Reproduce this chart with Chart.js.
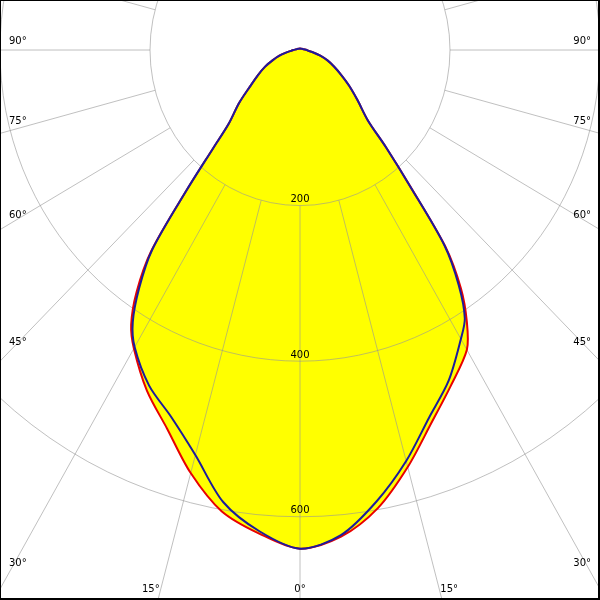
<!DOCTYPE html>
<html>
<head>
<meta charset="utf-8">
<style>
  html, body { margin: 0; padding: 0; background: #fff; }
  #wrap { width: 600px; height: 600px; }
</style>
<script src="https://cdn.jsdelivr.net/npm/chart.js@4.4.0/dist/chart.umd.min.js"></script>
</head>
<body>
<div id="wrap"><canvas id="polar" width="600" height="600"></canvas></div>
<script>
// gamma angles (deg from nadir) and intensities
const angles    = [0,5,10,15,20,25,30,32.5,35,37.5,40,42.5,45,50,55,60,65,70,75,80,85,90,100,120,140,160,180];
const redRight  = [641,628,598,555,511,476,445,414,374,318,228,170,128,100,80,63,50,39,28,18,11,9,5,3,2,2,2];
const redLeft   = [641,624,602,563,518,483,443,419,380,326,235,172,135,106,81,65,52,39,29,19,12,9,5,3,2,2,2];
const blueRight = [641,626,589,547,503,469,429,409,369,316,228,170,128,100,80,63,50,39,28,18,11,9,5,3,2,2,2];
const blueLeft  = [641,621,590,539,502,476,441,415,374,324,235,172,135,106,81,65,52,39,29,19,12,9,5,3,2,2,2];

const ringValues  = [200, 400, 600];
const spokeAngles = [-165,-150,-135,-120,-105,-90,-75,-60,-45,-30,-15,0,15,30,45,60,75,90,105,120,135,150,165,180];
const sideLabels   = [90, 75, 60, 45, 30];
const bottomLabels = [15, 0];

// polar -> cartesian (0 deg points down)
function toPoints(left, right){
  const pts = [];
  for (let i = angles.length - 1; i >= 0; i--) {
    const t = -angles[i] * Math.PI / 180;
    pts.push({ x: left[i] * Math.sin(t), y: -left[i] * Math.cos(t) });
  }
  for (let i = 1; i < angles.length; i++) {
    const t = angles[i] * Math.PI / 180;
    pts.push({ x: right[i] * Math.sin(t), y: -right[i] * Math.cos(t) });
  }
  return pts;
}
const redPts = toPoints(redLeft, redRight);
const bluePts = toPoints(blueLeft, blueRight);

const FONT = '10px "DejaVu Sans", sans-serif';
const TENSION = 0.3;

const polarGrid = {
  id: 'polarGrid',
  beforeDatasetDraw(chart, args){
    if (args.index !== 2) return;
    const {ctx, scales:{x, y}} = chart;
    const cx = x.getPixelForValue(0), cy = y.getPixelForValue(0);
    const kx = (x.getPixelForValue(100) - cx) / 100;
    const ky = (cy - y.getPixelForValue(100)) / 100;
    ctx.save();
    ctx.strokeStyle = 'rgba(150,150,150,0.6)';
    ctx.lineWidth = 1;
    ringValues.forEach(v => {
      ctx.beginPath();
      ctx.ellipse(cx, cy, v * kx, v * ky, 0, 0, Math.PI * 2);
      ctx.stroke();
    });
    spokeAngles.forEach(a => {
      const t = a * Math.PI / 180, s = Math.sin(t), c = Math.cos(t);
      ctx.beginPath();
      ctx.moveTo(cx + ringValues[0] * s * kx, cy + ringValues[0] * c * ky);
      ctx.lineTo(cx + 1500 * s * kx, cy + 1500 * c * ky);
      ctx.stroke();
    });
    ctx.restore();
  },
  afterDraw(chart){
    const {ctx, scales:{x, y}} = chart;
    const cx = x.getPixelForValue(0), cy = y.getPixelForValue(0);
    const kx = (x.getPixelForValue(100) - cx) / 100;
    const ky = (cy - y.getPixelForValue(100)) / 100;
    ctx.save();
    ctx.fillStyle = '#000';
    ctx.font = FONT;
    ctx.textBaseline = 'bottom';
    ctx.textAlign = 'center';
    ringValues.forEach(v => ctx.fillText(String(v), cx, cy + v * ky - 1));

    // angle labels along the side edges
    sideLabels.forEach(a => {
      const t = a * Math.PI / 180;
      const dx = cx - 9;
      const yy = cy + dx / (Math.sin(t) * kx) * Math.cos(t) * ky - 4;
      ctx.textAlign = 'left';
      ctx.fillText(a + '°', 9, yy);
      ctx.textAlign = 'right';
      ctx.fillText(a + '°', 591, yy);
    });
    // angle labels along the bottom edge
    bottomLabels.forEach(a => {
      const t = a * Math.PI / 180;
      const off = (593 - cy) / ky * Math.tan(t) * kx;
      if (a === 0) {
        ctx.textAlign = 'center';
        ctx.fillText('0°', cx, 594);
      } else {
        ctx.textAlign = 'right';
        ctx.fillText(a + '°', cx - off, 594);
        ctx.textAlign = 'left';
        ctx.fillText(a + '°', cx + off, 594);
      }
    });

    // frame
    ctx.fillRect(0, 0, 600, 1);
    ctx.fillRect(0, 0, 1, 600);
    ctx.fillRect(598, 0, 2, 600);
    ctx.fillRect(0, 598, 600, 2);
    ctx.restore();
  }
};

new Chart(document.getElementById('polar').getContext('2d'), {
  type: 'scatter',
  data: {
    datasets: [
      { data: redPts, showLine: true, fill: 'shape', backgroundColor: '#ffff00', borderWidth: 0, pointRadius: 0, tension: TENSION, order: 4 },
      { data: bluePts, showLine: true, fill: 'shape', backgroundColor: '#ffff00', borderWidth: 0, pointRadius: 0, tension: TENSION, order: 3 },
      { data: redPts, showLine: true, fill: false, borderColor: '#e80000', borderWidth: 2, pointRadius: 0, tension: TENSION, order: 2 },
      { data: bluePts, showLine: true, fill: false, borderColor: '#1c1c9c', borderWidth: 2, pointRadius: 0, tension: TENSION, order: 1 }
    ]
  },
  options: {
    responsive: false,
    animation: false,
    layout: { padding: 0 },
    scales: {
      x: { type: 'linear', min: -400, max: 400, display: false },
      y: { type: 'linear', min: -707, max: 64.3, display: false }
    },
    plugins: { legend: { display: false }, tooltip: { enabled: false } }
  },
  plugins: [polarGrid]
});
</script>
</body>
</html>
